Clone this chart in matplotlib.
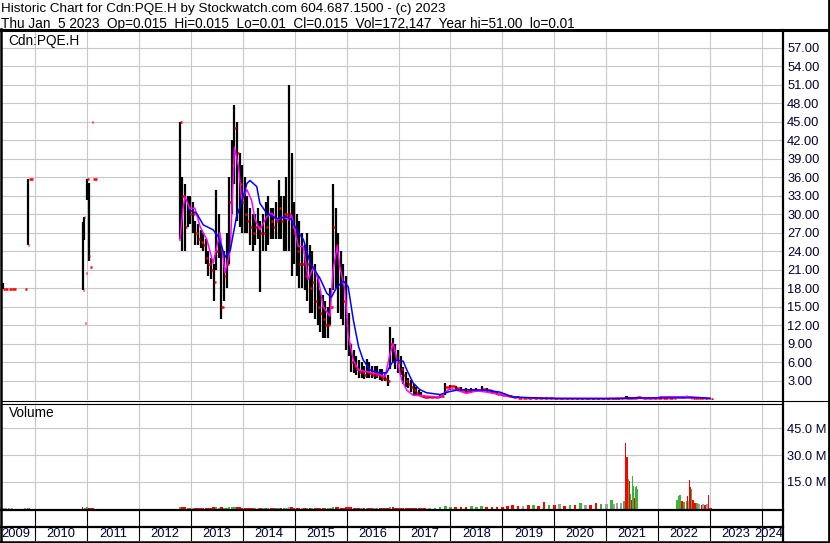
import matplotlib
matplotlib.use("Agg")
import matplotlib.pyplot as plt
import numpy as np

plt.rcParams['font.family'] = ['Liberation Sans', 'DejaVu Sans']

# ---- price bars (decimal year, high, low, close, volume in millions) ----
years = [2009.38, 2009.43, 2009.50, 2009.56, 2009.81, 2009.86, 2009.88, 2010.92, 2010.95, 2010.97,
         2010.98, 2011.00, 2011.04, 2011.06, 2011.10, 2011.11,
         2012.79, 2012.84, 2012.89, 2012.94, 2012.99, 2013.04, 2013.09, 2013.14, 2013.19, 2013.24,
         2013.29, 2013.34, 2013.39, 2013.44, 2013.49, 2013.54, 2013.59, 2013.64, 2013.69, 2013.74,
         2013.79, 2013.84, 2013.89, 2013.94, 2013.99, 2014.04, 2014.09, 2014.14, 2014.19, 2014.24,
         2014.29, 2014.34, 2014.39, 2014.44, 2014.49, 2014.54, 2014.59, 2014.64, 2014.69, 2014.74,
         2014.79, 2014.84, 2014.89, 2014.94, 2014.99, 2015.04, 2015.09, 2015.14, 2015.19, 2015.24,
         2015.29, 2015.34, 2015.39, 2015.44, 2015.49, 2015.54, 2015.59, 2015.64, 2015.69, 2015.74,
         2015.79, 2015.84, 2015.89, 2015.94, 2015.99, 2016.04, 2016.09, 2016.14, 2016.19, 2016.24,
         2016.29, 2016.34, 2016.39, 2016.44, 2016.49, 2016.54, 2016.59, 2016.64, 2016.69, 2016.74,
         2016.79, 2016.84, 2016.89, 2016.94, 2016.99, 2017.04, 2017.09, 2017.14, 2017.19, 2017.24,
         2017.29, 2017.34, 2017.39, 2017.44,
         2017.5, 2017.6, 2017.7, 2017.8, 2017.9, 2018.0, 2018.1, 2018.2, 2018.3, 2018.4,
         2018.5, 2018.6, 2018.7, 2018.8, 2018.9, 2019.0, 2019.1, 2019.2, 2019.3, 2019.4,
         2019.5, 2019.6, 2019.7, 2019.8, 2019.9, 2020.0, 2020.1, 2020.2, 2020.3, 2020.4,
         2020.5, 2020.6, 2020.7, 2020.8, 2020.9, 2021.0, 2021.1,
         2021.15, 2021.21, 2021.29, 2021.34, 2021.375, 2021.40, 2021.42, 2021.44, 2021.46, 2021.48,
         2021.50, 2021.52, 2021.54, 2021.56, 2021.58, 2021.59,
         2021.7, 2021.8, 2021.9, 2022.0, 2022.1, 2022.2, 2022.3,
         2022.36, 2022.40, 2022.42, 2022.46, 2022.50, 2022.54, 2022.56, 2022.59, 2022.61, 2022.63,
         2022.65, 2022.67, 2022.71, 2022.75, 2022.79, 2022.83, 2022.86, 2022.90, 2022.94, 2022.97,
         2023.01]

highs = [18.9, 17.9, 17.9, 17.9, 17.9, 35.8, 35.8, 28.8, 29.6, 12.4,
         20.5, 35.8, 35.1, 21.5, 45.0, 35.8,
         45.0, 36.0, 35.0, 33.0, 33.0, 32.0, 29.0, 28.5, 27.5, 27.0,
         26.0, 24.0, 23.0, 22.0, 34.0, 30.0, 25.0, 24.0, 27.0, 36.0,
         42.0, 47.7, 45.0, 40.0, 38.0, 36.0, 33.0, 31.0, 30.0, 30.0,
         31.0, 29.0, 30.0, 32.0, 33.0, 31.0, 31.0, 32.0, 35.5, 33.0,
         33.0, 36.0, 51.0, 40.0, 32.0, 30.0, 29.0, 27.0, 25.0, 27.0,
         25.0, 24.0, 22.0, 20.0, 17.7, 17.0, 16.0, 15.0, 18.0, 35.0,
         31.0, 27.0, 24.0, 22.0, 20.0, 14.0, 9.0, 8.0, 7.0, 6.4,
         6.0, 5.5, 6.5, 6.0, 5.5, 5.5, 5.5, 5.0, 5.0, 4.5,
         4.0, 11.8, 10.0, 9.0, 8.0, 7.0, 5.3, 4.5, 3.5, 3.2,
         2.5, 2.0, 1.5, 1.2,
         0.8, 0.6, 0.6, 0.8, 2.7, 2.4, 2.2, 2.0, 1.8, 1.8,
         1.9, 2.2, 1.8, 1.5, 1.2, 0.9, 0.8, 0.6, 0.5, 0.4,
         0.35, 0.35, 0.3, 0.3, 0.3, 0.25, 0.2, 0.15, 0.15, 0.15,
         0.15, 0.15, 0.15, 0.12, 0.12, 0.12, 0.15,
         0.15, 0.15, 0.15, 0.2, 0.6, 0.5, 0.45, 0.4, 0.4, 0.35,
         0.4, 0.35, 0.3, 0.3, 0.35, 0.4,
         0.3, 0.3, 0.3, 0.3, 0.3, 0.3, 0.3,
         0.45, 0.5, 0.55, 0.5, 0.5, 0.55, 0.5, 0.5, 0.6, 0.4,
         0.4, 0.35, 0.3, 0.35, 0.35, 0.3, 0.25, 0.2, 0.2, 0.15,
         0.015]

lows = [17.9, 17.9, 17.9, 17.9, 17.9, 25.0, 35.8, 17.7, 25.9, 12.4,
        20.5, 32.3, 22.4, 21.5, 45.0, 35.8,
        26.0, 24.0, 24.0, 28.0, 28.5, 27.0, 25.0, 25.0, 24.5, 24.0,
        22.0, 20.0, 19.5, 16.0, 21.0, 23.0, 13.0, 16.0, 18.0, 22.0,
        30.0, 35.0, 29.0, 28.0, 27.0, 27.0, 27.0, 25.0, 24.0, 25.0,
        26.0, 17.5, 24.0, 24.0, 25.0, 26.0, 26.0, 26.0, 26.0, 26.0,
        24.0, 24.0, 24.0, 20.0, 22.0, 20.0, 18.0, 18.0, 17.7, 16.0,
        14.0, 14.0, 13.0, 12.0, 11.0, 10.0, 10.0, 10.0, 12.0, 17.7,
        18.0, 14.0, 13.0, 12.0, 8.0, 7.0, 4.5, 4.3, 4.0, 3.5,
        3.5, 3.3, 3.5, 3.5, 3.5, 3.3, 3.5, 3.2, 3.0, 3.0,
        2.2, 5.0, 6.0, 5.0, 4.3, 4.0, 2.5, 2.0, 1.8, 1.2,
        0.8, 0.6, 0.5, 0.4,
        0.3, 0.3, 0.3, 0.3, 0.8, 1.5, 1.3, 1.2, 1.0, 1.1,
        1.2, 1.3, 1.2, 1.0, 0.7, 0.5, 0.4, 0.3, 0.25, 0.2,
        0.15, 0.15, 0.15, 0.1, 0.1, 0.1, 0.1, 0.05, 0.05, 0.05,
        0.05, 0.05, 0.05, 0.05, 0.05, 0.05, 0.08,
        0.08, 0.08, 0.08, 0.1, 0.1, 0.08, 0.1, 0.1, 0.1, 0.1,
        0.12, 0.15, 0.15, 0.15, 0.2, 0.25,
        0.3, 0.3, 0.3, 0.3, 0.3, 0.3, 0.3,
        0.25, 0.3, 0.35, 0.3, 0.35, 0.4, 0.35, 0.4, 0.3, 0.25,
        0.25, 0.25, 0.2, 0.2, 0.25, 0.15, 0.15, 0.1, 0.1, 0.05,
        0.01]

closes = [17.9, 17.9, 17.9, 17.9, 17.9, 25.0, 35.8, 17.7, 29.6, 12.4,
          20.5, 35.8, 23.3, 21.5, 45.0, 35.8,
          44.9, 33.0, 28.0, 31.0, 30.0, 30.0, 27.0, 26.0, 25.5, 25.0,
          23.0, 22.0, 21.0, 19.0, 24.0, 26.0, 15.0, 20.0, 22.0, 32.0,
          38.0, 44.0, 40.0, 35.0, 32.0, 30.0, 29.0, 28.0, 27.0, 28.0,
          28.0, 27.0, 27.0, 28.0, 30.0, 29.0, 28.0, 29.0, 31.0, 29.0,
          30.0, 30.0, 30.0, 28.0, 27.0, 24.0, 22.0, 22.0, 20.0, 22.0,
          18.0, 19.0, 16.0, 15.0, 14.0, 13.0, 12.0, 12.0, 15.0, 28.0,
          25.0, 22.0, 19.0, 16.0, 12.0, 9.0, 6.0, 5.5, 5.0, 4.5,
          4.5, 4.0, 4.5, 4.3, 4.0, 4.0, 4.2, 3.8, 3.5, 3.3,
          3.0, 9.0, 8.0, 7.0, 6.0, 5.0, 4.0, 3.0, 2.5, 2.0,
          1.5, 1.0, 0.8, 0.6,
          0.4, 0.4, 0.45, 0.5, 2.0, 2.2, 1.8, 1.5, 1.4, 1.5,
          1.6, 1.7, 1.5, 1.2, 0.9, 0.7, 0.5, 0.4, 0.3, 0.3,
          0.25, 0.3, 0.25, 0.2, 0.25, 0.15, 0.15, 0.1, 0.12, 0.1,
          0.12, 0.12, 0.1, 0.08, 0.1, 0.1, 0.12,
          0.12, 0.12, 0.12, 0.15, 0.12, 0.10, 0.15, 0.12, 0.15, 0.12,
          0.2, 0.25, 0.2, 0.25, 0.3, 0.35,
          0.3, 0.3, 0.3, 0.3, 0.3, 0.3, 0.3,
          0.35, 0.4, 0.45, 0.4, 0.45, 0.5, 0.45, 0.45, 0.35, 0.3,
          0.35, 0.3, 0.25, 0.3, 0.3, 0.2, 0.2, 0.15, 0.15, 0.1,
          0.015]

volumes = [0.5, 0.3, 0.3, 0.3, 0.4, 0.3, 0.3, 0.6, 0.5, 0.4,
           0.4, 0.6, 0.5, 0.4, 0.4, 0.3,
           0.9, 0.8, 0.6, 0.5, 0.5, 0.4, 0.5, 0.4, 0.4, 0.5,
           0.4, 0.5, 0.4, 0.6, 0.7, 0.5, 0.6, 0.5, 0.5, 0.7,
           0.8, 0.9, 0.7, 0.6, 0.5, 0.5, 0.4, 0.4, 0.5, 0.4,
           0.4, 0.5, 0.4, 0.4, 0.5, 0.4, 0.4, 0.4, 0.5, 0.4,
           0.4, 0.5, 0.8, 0.6, 0.5, 0.4, 0.5, 0.4, 0.4, 0.5,
           0.4, 0.5, 0.4, 0.4, 0.5, 0.4, 0.5, 0.4, 0.5, 0.9,
           0.7, 0.6, 0.5, 0.5, 0.6, 0.7, 0.6, 0.5, 0.4, 0.4,
           0.4, 0.3, 0.4, 0.3, 0.3, 0.4, 0.3, 0.3, 0.3, 0.4,
           0.3, 0.7, 0.6, 0.5, 0.4, 0.5, 0.4, 0.4, 0.3, 0.4,
           0.3, 0.4, 0.3, 0.3,
           0.4, 0.5, 0.5, 0.6, 1.3, 1.0, 0.8, 0.7, 0.8, 1.2,
           1.0, 1.3, 0.8, 0.7, 0.8, 0.9, 1.2, 1.8, 1.2, 1.5,
           1.8, 2.0, 1.5, 3.5, 2.0, 1.8, 2.5, 1.5, 2.2, 2.0,
           3.0, 1.8, 2.0, 3.3, 2.5, 2.8, 4.6,
           2.5, 3.0, 3.0, 4.0, 37.0, 29.0, 16.5, 15.5, 8.0, 5.0,
           18.4, 12.6, 6.0, 12.0, 12.5, 11.0,
           0, 0, 0, 0, 0, 0, 0,
           5.0, 7.0, 7.6, 4.0, 3.5, 4.2, 7.0, 4.0, 16.2, 12.0,
           10.8, 5.0, 3.0, 3.0, 2.5, 2.0, 2.5, 2.0, 2.5, 7.5,
           0.17]

# ---- moving averages ----
ma_short_years = [2012.79, 2012.85, 2012.89, 2012.98, 2013.08, 2013.18, 2013.31, 2013.43, 2013.56, 2013.66,
                  2013.76, 2013.84, 2013.92, 2013.98, 2014.08, 2014.17, 2014.24, 2014.33, 2014.46, 2014.56,
                  2014.65, 2014.78, 2014.88, 2014.94, 2015.07, 2015.17, 2015.26, 2015.36, 2015.46, 2015.55,
                  2015.68, 2015.74, 2015.82, 2015.87, 2015.97, 2016.03, 2016.13, 2016.23, 2016.39, 2016.58,
                  2016.74, 2016.84, 2016.90, 2016.97, 2017.06, 2017.16, 2017.28, 2017.80, 2017.99, 2018.12,
                  2018.31, 2018.51, 2018.70, 2018.95, 2019.34, 2020.11, 2021.27, 2021.98, 2022.04, 2022.61,
                  2022.80, 2023.00]
ma_short = [25.8, 31.0, 32.8, 31.0, 31.0, 28.0, 25.9, 22.1, 27.0, 20.5,
            24.2, 40.9, 37.7, 32.3, 34.0, 32.3, 29.1, 27.5, 29.6, 30.2,
            29.1, 29.6, 29.1, 29.9, 24.8, 24.8, 19.4, 21.5, 19.4, 15.0,
            13.5, 21.0, 24.8, 21.5, 17.7, 10.5, 6.4, 4.8, 4.5, 4.2,
            3.7, 7.5, 9.1, 6.4, 3.2, 1.5, 0.7, 0.4, 1.8, 1.5,
            1.0, 1.4, 1.2, 0.8, 0.3, 0.15, 0.2, 0.15, 0.45, 0.45,
            0.3, 0.15]

ma_long_years = [2012.98, 2013.11, 2013.24, 2013.43, 2013.53, 2013.66, 2013.76, 2013.88, 2013.98, 2014.08,
                 2014.14, 2014.27, 2014.33, 2014.46, 2014.65, 2014.85, 2014.94, 2015.04, 2015.17, 2015.30,
                 2015.49, 2015.62, 2015.71, 2015.81, 2015.94, 2016.03, 2016.13, 2016.23, 2016.32, 2016.45,
                 2016.58, 2016.77, 2016.87, 2016.97, 2017.09, 2017.16, 2017.28, 2017.41, 2017.54, 2017.80,
                 2017.99, 2018.18, 2018.70, 2018.95, 2019.21, 2019.85, 2021.00, 2021.60, 2022.40, 2022.80,
                 2023.00]
ma_long = [30.7, 30.2, 28.3, 27.5, 26.4, 23.1, 24.2, 29.6, 32.0, 35.0,
           35.5, 34.5, 31.8, 30.2, 29.3, 29.6, 29.1, 27.5, 25.9, 22.1,
           19.6, 17.2, 16.6, 18.2, 19.2, 18.3, 12.9, 8.6, 6.4, 4.8,
           4.4, 4.3, 5.9, 6.4, 6.2, 4.8, 2.7, 1.6, 1.1, 0.8,
           1.3, 1.6, 1.5, 1.2, 0.4, 0.2, 0.15, 0.25, 0.3, 0.3,
           0.2]

price_ticks = np.arange(3, 58, 3)
vol_ticks = [15, 30, 45]
year_edges = np.arange(2010, 2025)
header1 = "Historic Chart for Cdn:PQE.H by Stockwatch.com 604.687.1500 - (c) 2023"
header2 = ("Thu Jan  5 2023  Op=0.015  Hi=0.015  Lo=0.01  Cl=0.015  "
           "Vol=172,147  Year hi=51.00  lo=0.01")

years = np.array(years)
highs = np.array(highs)
lows = np.array(lows)
closes = np.array(closes)
volumes = np.array(volumes)

W, H = 830, 543
fig = plt.figure(figsize=(W / 100, H / 100), dpi=100)


def box(x0, y0, x1, y1):
    # pixel rectangle (top-left origin) -> figure fraction
    return [x0 / W, 1 - y1 / H, (x1 - x0) / W, (y1 - y0) / H]


XMIN, XMAX = 2009.3645, 2024.404
GRID = '#c8c8c8'
LABEL = '#000033'
FS = 9.3

ax = fig.add_axes(box(2, 31, 783, 400))
ax_v = fig.add_axes(box(2, 403, 783, 509))
ax_d = fig.add_axes(box(2, 510, 783, 541))

for a in (ax, ax_v, ax_d):
    a.set_xlim(XMIN, XMAX)
    for s in a.spines.values():
        s.set_visible(False)

# price panel
ax.set_ylim(-0.08, 59.72)
ax.set_axisbelow(True)
ax.yaxis.tick_right()
ax.set_yticks(price_ticks)
ax.set_yticklabels([f'{v:.2f}' for v in price_ticks])
ax.set_xticks(year_edges)
ax.tick_params(axis='x', length=0, labelbottom=False)
ax.tick_params(axis='y', length=0, pad=3, labelsize=FS, labelcolor=LABEL)
ax.grid(True, color=GRID, lw=0.8)

gaps = np.diff(years, append=years[-1] + 0.05)
ax.vlines(years, lows, highs, colors='black', lw=1.6, zorder=2)
tick = np.clip(gaps * 0.8, 0.02, 0.08)
ax.hlines(closes, years, years + tick, colors='red', lw=1.8, zorder=3)
ax.plot(ma_short_years, ma_short, color='#ff00ff', lw=1.1, zorder=4)
ax.plot(ma_long_years, ma_long, color='#0000ff', lw=1.1, zorder=5)

# volume panel
ax_v.set_ylim(-0.28, 59.27)
ax_v.set_axisbelow(True)
ax_v.yaxis.tick_right()
ax_v.set_yticks(vol_ticks)
ax_v.set_yticklabels([f'{v:.1f} M' for v in vol_ticks])
ax_v.set_xticks(year_edges)
ax_v.tick_params(axis='x', length=0, labelbottom=False)
ax_v.tick_params(axis='y', length=0, pad=3, labelsize=FS, labelcolor=LABEL)
ax_v.grid(True, color=GRID, lw=0.8)

chg = np.diff(closes, prepend=closes[0])
vcol = np.where(chg > 0, '#3cb43c', np.where(chg < 0, '#ff0000', '#a0a0a0'))
ax_v.bar(years, volumes, width=np.clip(gaps * 0.9, 0.02, 0.05), color=vcol, lw=0, zorder=2)

# date / year rows
ax_d.set_ylim(0, 1)
ax_d.set_xticks([])
ax_d.set_yticks([])
ax_d.vlines(year_edges, 0, 1, colors='black', lw=0.8)
for y in range(2009, 2025):
    if y == 2009:
        ax_d.text(XMIN - 0.01, 0.22, str(y), ha='left', va='center', fontsize=FS, color=LABEL)
    elif y == 2024:
        ax_d.text(XMAX, 0.22, str(y), ha='right', va='center', fontsize=FS, color=LABEL)
    else:
        ax_d.text(y + 0.5, 0.22, str(y), ha='center', va='center', fontsize=FS, color=LABEL)

# frame lines and header in pixel space
fr = fig.add_axes([0, 0, 1, 1], zorder=10)
fr.set_xlim(0, W)
fr.set_ylim(H, 0)
fr.axis('off')
fr.patch.set_alpha(0)
k = 'black'
fr.plot([0, W], [29.8, 29.8], color=k, lw=2.2)
fr.plot([1, 1], [29, H], color=k, lw=1.8)
fr.plot([828.5, 828.5], [0, H], color=k, lw=2.0)
fr.plot([0, W], [541.8, 541.8], color=k, lw=1.8)
fr.plot([783, 783], [30, H], color=k, lw=1.6)
fr.plot([2, 828], [400.5, 400.5], color=k, lw=0.8)
fr.plot([2, 783], [403.5, 403.5], color=k, lw=0.8)
fr.plot([0, 783], [509.6, 509.6], color=k, lw=1.6)
fr.plot([0, 783], [527, 527], color=k, lw=1.6)

fr.text(1, 9, header1, ha='left', va='center', fontsize=9.7)
fr.text(1, 24, header2, ha='left', va='center', fontsize=9.8)
fr.text(8, 41.5, "Cdn:PQE.H", ha='left', va='center', fontsize=9.8)
fr.text(9, 413, "Volume", ha='left', va='center', fontsize=9.8)

fig.savefig('out.png', dpi=100)
